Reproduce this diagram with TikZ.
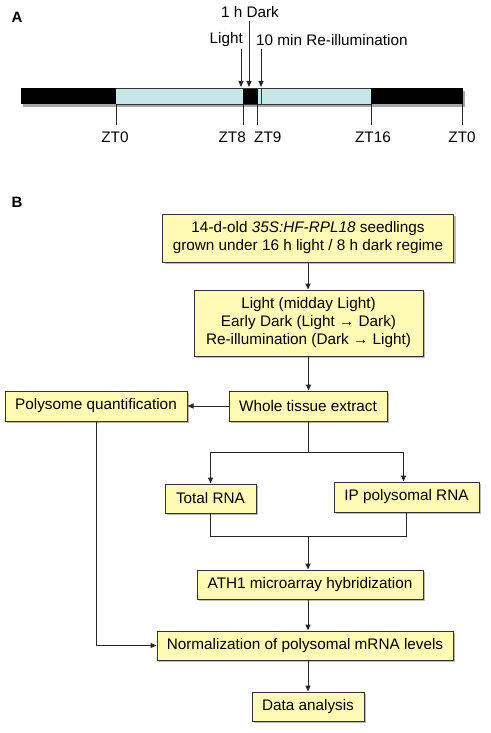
\documentclass[tikz,border=0pt]{standalone}
\usepackage{fontspec}
\setmainfont{Liberation Sans}
\usetikzlibrary{arrows.meta,shadows}
\definecolor{boxfill}{HTML}{FFFAB4}
\definecolor{boxline}{HTML}{333333}
\definecolor{barblue}{HTML}{C8E6EA}
\tikzset{
  flowbox/.style={draw=boxline, line width=1pt, fill=boxfill, inner sep=0pt, align=center,
    drop shadow={shadow xshift=2pt, shadow yshift=-2pt, opacity=0.45, fill=black!60}},
  conn/.style={draw=black!85, line width=1pt},
  arr/.style={conn, -{Triangle[length=6pt,width=5pt]}},
  txt/.style={inner sep=0pt, font=\fontsize{15.3}{18}\selectfont},
  tick/.style={draw=black!85, line width=1pt}
}
\begin{document}
\begin{tikzpicture}[x=1pt,y=-1pt]
\useasboundingbox (0,0) rectangle (490,733);
\fontsize{15.3}{18}\selectfont
% Panel A
\node[txt, font=\fontsize{15}{18}\selectfont\bfseries] (lA) at (17,17) {A};
\fill[black!35] (23,91) rectangle (465,107);
\fill[black] (21,88) rectangle (116,104);
\fill[barblue] (116,88) rectangle (243,104);
\fill[black] (243,88) rectangle (258,104);
\fill[barblue] (258,88) rectangle (371,104);
\fill[black] (371,88) rectangle (463,104);
\draw[boxline, line width=0.8pt] (116,88) -- (371,88) (116,104) -- (371,104);
\draw[boxline, line width=0.8pt] (261,88) -- (261,104);
\coordinate (t0) at (116,104); \coordinate (t8) at (243,104); \coordinate (t9) at (257,104);
\coordinate (t16) at (371,104); \coordinate (t24) at (462,104);
\foreach \c in {t0, t8, t9, t16, t24} {
  \draw[tick] (\c) -- ++(0,21) coordinate (\c e);
}
\node[txt] (t0l) at (115,137) {ZT0};
\node[txt, anchor=east] (t8l) at (246,137) {ZT8};
\node[txt, anchor=west] (t9l) at (254,137) {ZT9};
\node[txt] (t16l) at (373,137) {ZT16};
\node[txt] (t24l) at (462,137) {ZT0};
\node[txt] (dark) at (250,12) {1 h Dark};
\node[txt, anchor=east] (light) at (243,40) {Light};
\node[txt, anchor=west] (reill) at (256,40) {10 min Re-illumination};
\coordinate (aL0) at (241,49); \coordinate (aL1) at (241,87);
\coordinate (aD0) at (249,21); \coordinate (aD1) at (249,87);
\coordinate (aR0) at (261,49); \coordinate (aR1) at (261,87);
\draw[arr] (aL0) -- (aL1);
\draw[arr] (aD0) -- (aD1);
\draw[arr] (aR0) -- (aR1);
% Panel B
\node[txt, font=\fontsize{15}{18}\selectfont\bfseries] (lB) at (17,202) {B};
\node[flowbox, txt, minimum width=291pt, minimum height=48pt] (b1) at (308,238)
  {14-d-old \textit{35S:HF-RPL18} seedlings\\grown under 16 h light / 8 h dark regime};
\node[flowbox, txt, minimum width=229pt, minimum height=66pt] (b2) at (308.5,323)
  {Light (midday Light)\\Early Dark (Light \char"2192{} Dark)\\Re-illumination (Dark \char"2192{} Light)};
\node[flowbox, txt, minimum width=158pt, minimum height=30pt] (wte) at (308,406) {Whole tissue extract};
\node[flowbox, txt, minimum width=182pt, minimum height=30pt] (pq) at (96,406) {Polysome quantification};
\node[flowbox, txt, minimum width=91pt, minimum height=29pt] (tot) at (210.5,498.5) {Total RNA};
\node[flowbox, txt, minimum width=145pt, minimum height=30pt] (ip) at (406.5,497) {IP polysomal RNA};
\node[flowbox, txt, minimum width=226pt, minimum height=29pt] (ath) at (310,584.5) {ATH1 microarray hybridization};
\node[flowbox, txt, minimum width=296pt, minimum height=29pt] (norm) at (305,645.5) {Normalization of polysomal mRNA levels};
\node[flowbox, txt, minimum width=112pt, minimum height=29pt] (data) at (308,706.5) {Data analysis};
% connectors
\draw[arr] (b1.south) -- (b1.south |- b2.north);
\draw[arr] (b2.south) -- (b2.south |- wte.north);
\draw[arr] (wte.west) -- (pq.east);
\coordinate (split) at (308,452);
\draw[conn] (wte.south) -- (split);
\draw[arr] (split) -| (tot.north);
\draw[arr] (split) -| ([xshift=-3pt]ip.north);
\coordinate (jn) at (308,536);
\draw[conn] (tot.south) -- ++(0,23) coordinate (jl) -- (jl -| ip.south) coordinate (jr) -- (ip.south);
\draw[arr] (jn) -- (jn |- ath.north);
\draw[arr] ([xshift=-2pt]ath.south) -- ([xshift=-2pt]ath.south |- norm.north);
\draw[arr] (pq.south) |- (norm.west);
\draw[arr] (data.north |- norm.south) -- (data.north);
\end{tikzpicture}
\end{document}
